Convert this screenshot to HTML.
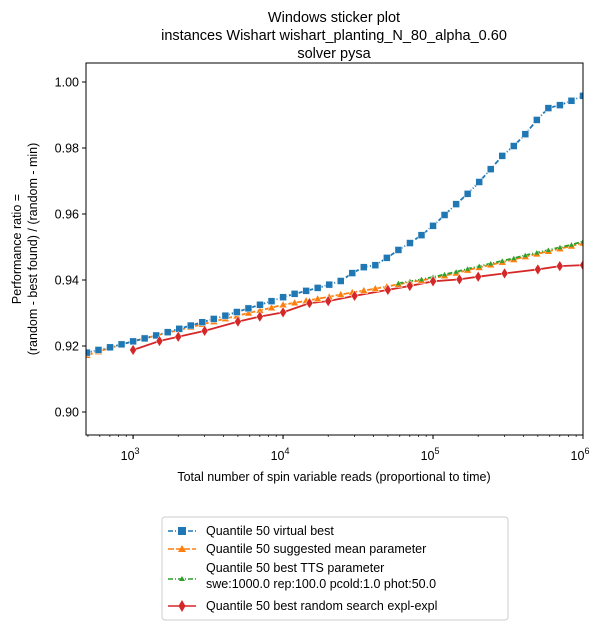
<!DOCTYPE html>
<html><head><meta charset="utf-8"><style>
body{margin:0;background:#fff;}
svg text{font-family:"Liberation Sans","DejaVu Sans",sans-serif;fill:#000;}
</style></head><body>
<svg id="c" width="605" height="630" viewBox="0 0 605 630">
<g font-size="14.5" text-anchor="middle">
<text x="334" y="22">Windows sticker plot</text>
<text x="334" y="40">instances Wishart wishart_planting_N_80_alpha_0.60</text>
<text x="334" y="58">solver pysa</text>
</g>
<g id="plot"></g>
<text x="334" y="481" font-size="12.5" text-anchor="middle">Total number of spin variable reads (proportional to time)</text>
<g font-size="12.5" text-anchor="middle">
<text transform="translate(21,249) rotate(-90)">Performance ratio =</text>
<text transform="translate(37,249) rotate(-90)">(random - best found) / (random - min)</text>
</g>
<g>
<rect x="162" y="517" width="346" height="103" rx="3" fill="#fff" stroke="#ccc"/>
<g><line x1="168" y1="531" x2="196" y2="531" stroke="#1f77b4" stroke-width="1.5" stroke-dasharray="5,2,1,2"/><rect x="178" y="527" width="8" height="8" fill="#1f77b4"/><text x="206" y="535" font-size="12.5">Quantile 50 virtual best</text></g>
<g><line x1="168" y1="549" x2="196" y2="549" stroke="#ff7f0e" stroke-width="1.5" stroke-dasharray="6,2"/><path d="M182,545 L186,552 L178,552Z" fill="#ff7f0e"/><text x="206" y="553" font-size="12.5">Quantile 50 suggested mean parameter</text></g>
<g><line x1="168" y1="579" x2="196" y2="579" stroke="#2ca02c" stroke-width="1.5" stroke-dasharray="5,2,1,2"/><path d="M182,576 L185,581 L179,581Z" fill="#2ca02c"/><text x="206" y="572" font-size="12.5">Quantile 50 best TTS parameter</text><text x="206" y="588" font-size="12.5">swe:1000.0 rep:100.0 pcold:1.0 phot:50.0</text></g>
<g><line x1="168" y1="606" x2="196" y2="606" stroke="#d62728" stroke-width="1.5"/><path d="M182,600 L185.5,606 L182,612 L178.5,606Z" fill="#d62728"/><text x="206" y="610" font-size="12.5">Quantile 50  best random search expl-expl</text></g>
</g>
</svg>
<script>
const blueK=[35,36,37,38,39,40,41,42,43,44,45,46,47,48,49,50,51,52,53,54,55,56,57,58,59,60,61,62,63,64,65,66,67,68,69,70,71,72,73,74,75,76,77,78];
const blueVals=[.9180,.9188,.9196,.9205,.9214,.9223,.9232,.9242,.9252,.9262,.9272,.9282,.9292,.9303,.9314,.9325,.9336,.9348,.9358,.9367,.9376,.9386,.9397,.9421,.9439,.9445,.9467,.9491,.9512,.9536,.9564,.9597,.9630,.9661,.9697,.9736,.9776,.9806,.9842,.9885,.9921,.9930,.9943,.9958];
const orangeVals=[.9172,.9183,.9194,.9204,.9215,.9223,.9232,.9240,.9249,.9257,.9266,.9274,.9283,.9291,.9300,.9308,.9316,.9325,.9331,.9337,.9343,.9349,.9356,.9362,.9368,.9374,.9380,.9387,.9393,.9399,.9405,.9413,.9421,.9430,.9438,.9446,.9454,.9462,.9471,.9479,.9487,.9495,.9503,.9512];
const greenK=[62,63,64,65,66,67,68,69,70,71,72,73,74,75,76,77,78];
const greenVals=[.9390,.9396,.9402,.9409,.9417,.9425,.9434,.9442,.9450,.9458,.9466,.9475,.9483,.9491,.9499,.9507,.9517];
const redX=[1000,1500,2000,3000,5000,7000,10000,15000,20000,30000,50000,70000,100000,150000,200000,300000,500000,700000,1000000];
const redVals=[.9188,.9215,.9228,.9246,.9274,.9289,.9302,.9330,.9336,.9352,.9370,.9382,.9396,.9402,.9410,.9420,.9432,.9442,.9445];
const yTicks=[0.90,0.92,0.94,0.96,0.98,1.00];
const xTickExp=[3,4,5,6];

const L=86,R=583,T=63,B=435;
const lmin=2.686,lmax=6;
const sx=v=>L+(Math.log10(v)-lmin)/(lmax-lmin)*(R-L);
const sy=v=>412-(v-0.90)/0.10*330;
const NS="http://www.w3.org/2000/svg";
const g=document.getElementById('plot');
function mk(t,a,p){const e=document.createElementNS(NS,t);for(const k in a)e.setAttribute(k,a[k]);(p||g).appendChild(e);return e;}
const clip=mk('clipPath',{id:'cp'});mk('rect',{x:L,y:T,width:R-L,height:B-T},clip);
yTicks.forEach(v=>{const y=sy(v);
const t=mk('line',{x1:L-4,x2:L,y1:y,y2:y,stroke:'#000'});


const tx=mk('text',{x:L-7,y:y+4.5,'font-size':'12.5','text-anchor':'end'});tx.textContent=v.toFixed(2);

});
for(let e=2;e<=5;e++)for(let m=1;m<10;m++){const v=m*Math.pow(10,e);const l=Math.log10(v);if(l<lmin||l>lmax)continue;const x=sx(v);
mk('line',{x1:x,x2:x,y1:B,y2:B+(m==1?4:2),stroke:'#000','stroke-width':m==1?1:0.7});}
xTickExp.forEach(e=>{const x=sx(Math.pow(10,e));mk('line',{x1:x,x2:x,y1:B,y2:B+4,stroke:'#000'});
const tx=mk('text',{x:x-3,y:B+25,'font-size':'12.5','text-anchor':'middle'});tx.textContent='10';
const s=mk('tspan',{dy:-6,'font-size':'9'},tx);s.textContent=e;

});
const pl=mk('g',{'clip-path':'url(#cp)'});
function line(xs,ys,col,dash,name){const p=mk('polyline',{points:xs.map((x,i)=>sx(x)+','+sy(ys[i])).join(' '),fill:'none',stroke:col,'stroke-width':1.8,'stroke-dasharray':dash},pl);

}
const bx=blueK.map(k=>Math.pow(10,k/13)), gx=greenK.map(k=>Math.pow(10,k/13));
line(bx,orangeVals,'#ff7f0e','6,2','line-suggested-mean');
line(gx,greenVals,'#2ca02c','5,2,1,2','line-best-tts');
line(bx,blueVals,'#1f77b4','5,2,1,2','line-virtual-best');
line(redX,redVals,'#d62728','','line-random-search');
bx.forEach((x,i)=>{const cx=sx(x),cy=sy(orangeVals[i]);const m=mk('path',{d:`M${cx},${cy-4} L${cx+4},${cy+3} L${cx-4},${cy+3}Z`,fill:'#ff7f0e',stroke:'#fff','stroke-width':0.5},pl);

});
gx.forEach((x,i)=>{const cx=sx(x),cy=sy(greenVals[i]);const m=mk('path',{d:`M${cx},${cy-2.5} L${cx+2.5},${cy+2} L${cx-2.5},${cy+2}Z`,fill:'#2ca02c'},pl);

});
bx.forEach((x,i)=>{const cx=sx(x),cy=sy(blueVals[i]);const m=mk('rect',{x:cx-3.5,y:cy-3.5,width:7,height:7,fill:'#1f77b4',stroke:'#fff','stroke-width':0.5},pl);

});
redX.forEach((x,i)=>{const cx=sx(x),cy=sy(redVals[i]);const m=mk('path',{d:`M${cx},${cy-5.5} L${cx+3.5},${cy} L${cx},${cy+5.5} L${cx-3.5},${cy}Z`,fill:'#d62728',stroke:'#fff','stroke-width':0.5},pl);

});
const fr=mk('rect',{x:L,y:T,width:R-L,height:B-T,fill:'none',stroke:'#000','stroke-width':1});


</script>
</body></html>
